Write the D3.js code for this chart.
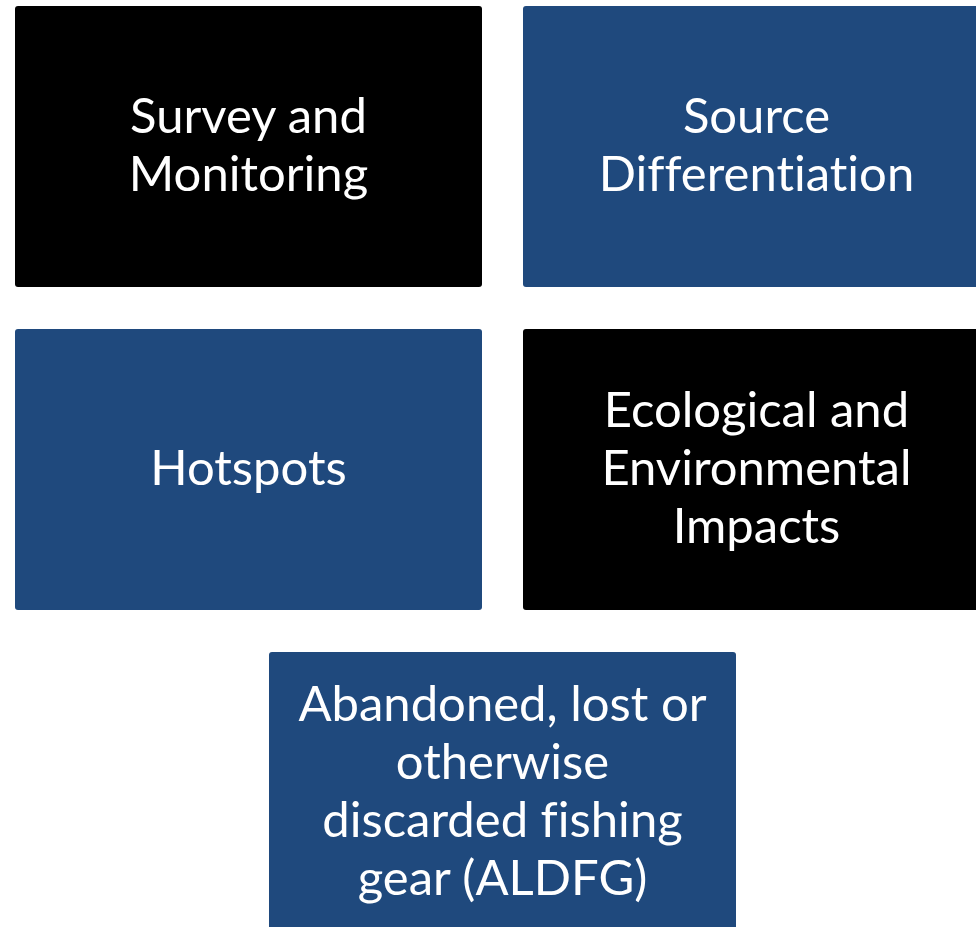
<!DOCTYPE html>
<html>
<head>
<meta charset="utf-8">
<script src="https://cdn.jsdelivr.net/npm/d3@7"></script>
<style>
  html, body { margin: 0; padding: 0; background: #fff; }
  svg { display: block; }
  text { font-variant-ligatures: none; font-feature-settings: "liga" 0; }
</style>
</head>
<body>
<svg id="chart" width="976" height="927"></svg>
<script>
// box labels, one entry per line
var labels = [
  ["Survey and", "Monitoring"],
  ["Source", "Differentiation"],
  ["Hotspots"],
  ["Ecological and", "Environmental", "Impacts"],
  ["Abandoned, lost or", "otherwise", "discarded fishing", "gear (ALDFG)"]
];
var fills = ["black", "blue", "blue", "black", "blue"];
var cols = [0, 1, 0, 1, 0.5];
var rows = [0, 0, 1, 1, 2];

var svg = d3.select("#chart");

var colour = d3.scaleOrdinal()
               .domain(["black", "blue"])
               .range(["#000000", "#1f497d"]);

var x = d3.scaleBand().domain([0, 1]).range([15, 990]).paddingInner(0.0807);
var y = d3.scaleBand().domain([0, 1, 2]).range([6, 933]).paddingInner(0.13);

var lineH = 58;

function colX(c) {
  // half column sits midway between the two columns
  return c === 0.5 ? (x(0) + x(1)) / 2 : x(c);
}

var boxes = svg.selectAll("g.box")
               .data(labels)
               .enter().append("g")
               .attr("class", "box")
               .attr("transform", function(d, i) { return "translate(" + [colX(cols[i]), y(rows[i])] + ")"; });

boxes.append("rect")
     .attr("width", x.bandwidth())
     .attr("height", y.bandwidth())
     .attr("rx", 3)
     .attr("fill", function(d, i) { return colour(fills[i]); });

boxes.append("text")
     .attr("fill", "#fff")
     .attr("font-family", "Lato, 'Open Sans', sans-serif")
     .attr("font-size", 49)
     .attr("text-anchor", "middle")
     .selectAll("tspan")
     .data(function(d) { return d.map(function(t, k) { return {t: t, k: k, n: d.length}; }); })
     .enter().append("tspan")
     .attr("x", x.bandwidth() / 2)
     .attr("y", function(d) { return y.bandwidth() / 2 + (d.k - (d.n - 1) / 2) * lineH; })
     .attr("dy", "0.32em")
     .text(function(d) { return d.t; });
</script>
</body>
</html>
